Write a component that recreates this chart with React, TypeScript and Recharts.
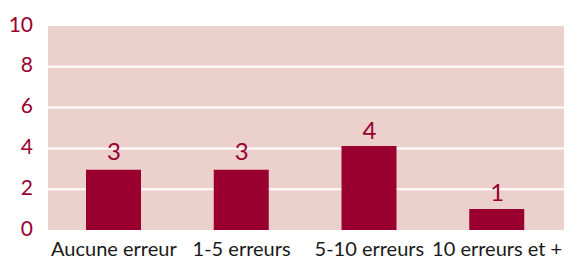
import React from "react";
import { ComposedChart, Bar, Line, XAxis, YAxis, CartesianGrid, LabelList } from "recharts";

const categories = ["Aucune erreur", "1-5 erreurs", "5-10 erreurs", "10 erreurs et +"];
const values = [2.95, 2.95, 4.12, 1.03];
const labelValues = [3, 3, 4, 1];
const yTicks = [0, 2, 4, 6, 8, 10];

const data = categories.map((c, i) => ({ name: c, value: values[i], labelValue: labelValues[i] }));

const RED = "#990030";
const PINK = "#ECD0CC";
const FONT = "Lato";

const YTick = (props: any) => {
  const { x, y, payload } = props;
  return (
    <text
      x={x}
      y={y}
      dy={5.5}
      textAnchor="end"
      fill={RED}
      fontSize={21}
      fontFamily={FONT}
    >
      {payload.value}
    </text>
  );
};

export default function App() {
  return (
    <div style={{ position: "absolute", left: 0, top: 0 }}>
      <ComposedChart
        width={568}
        height={261}
        data={data}
        margin={{ top: 26, right: 4, bottom: 0, left: 0 }}
      >
        <CartesianGrid
          vertical={false}
          horizontalValues={[2, 4, 6, 8]}
          stroke="#ffffff"
          strokeWidth={2}
          fill={PINK}
          fillOpacity={1}
        />
        <XAxis
          dataKey="name"
          height={31}
          axisLine={false}
          tickLine={false}
          tickSize={0}
          tickMargin={12}
          padding={{ left: 2, right: 3 }}
          interval={0}
          tick={{ fill: "#1a1a1a", fontSize: 20, fontFamily: FONT }}
        />
        <YAxis
          width={48}
          domain={[0, 10]}
          ticks={yTicks}
          axisLine={false}
          tickLine={false}
          tickSize={0}
          tickMargin={15}
          interval={0}
          tick={<YTick />}
        />
        <Bar dataKey="value" fill={RED} barSize={55} isAnimationActive={false} />
        <Line
          dataKey="labelValue"
          stroke="none"
          dot={false}
          activeDot={false}
          isAnimationActive={false}
        >
          <LabelList
            dataKey="labelValue"
            position="top"
            offset={9}
            fill={RED}
            fontSize={24}
            fontFamily={FONT}
          />
        </Line>
      </ComposedChart>
    </div>
  );
}
